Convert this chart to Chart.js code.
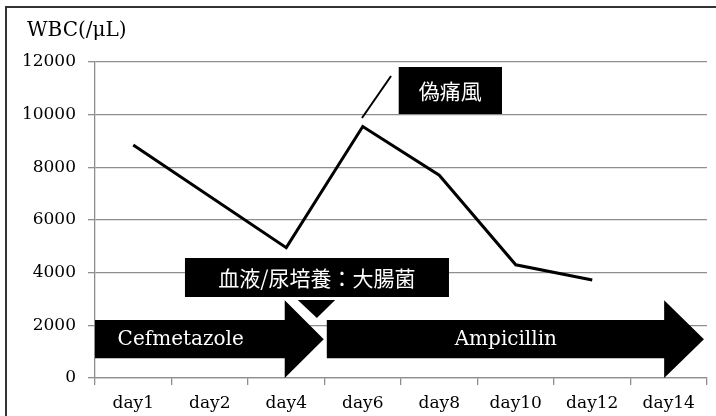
<!DOCTYPE html>
<html>
<head>
<meta charset="utf-8">
<script src="https://cdn.jsdelivr.net/npm/chart.js@4/dist/chart.umd.min.js"></script>
<style>
  html, body { margin: 0; padding: 0; background: #fff; }
  #wrap { width: 716px; height: 416px; position: relative; }
</style>
</head>
<body>
<div id="wrap"><canvas id="myChart"></canvas></div>
<script>
// categories and values
const days = ['day1', 'day2', 'day4', 'day6', 'day8', 'day10', 'day12', 'day14'];
const wbc = [8850, null, 4950, 9550, 7700, 4300, 3720, null];
const yTicks = [0, 2000, 4000, 6000, 8000, 10000, 12000];
const yTitle = 'WBC(/μL)';

const serif = '"DejaVu Serif", "Liberation Serif", serif';
const cjk = '"Noto Sans CJK JP", "Noto Sans", sans-serif';

// annotation shapes, placed in category index / value units
const arrows = [
  { text: 'Cefmetazole', from: -0.5, headAt: 1.98, tip: 2.49, textAt: 0.62 },
  { text: 'Ampicillin', from: 2.53, headAt: 6.94, tip: 7.46, textAt: 4.87 }
];
const boxes = [
  { text: '偽痛風', x1: 3.47, x2: 4.82, y1: 10025, y2: 11810 },
  { text: '血液/尿培養：大腸菌', x1: 0.676, x2: 4.127, y1: 3076, y2: 4557 }
];

const annotations = {
  id: 'annotations',
  beforeDraw(chart) {
    // outer frame (only top and left edges are visible)
    const ctx = chart.ctx;
    ctx.save();
    ctx.strokeStyle = '#333';
    ctx.lineWidth = 2;
    ctx.beginPath();
    ctx.moveTo(6, 416);
    ctx.lineTo(6, 7);
    ctx.lineTo(716, 7);
    ctx.stroke();

    // axis title above the y ticks
    ctx.fillStyle = '#000';
    ctx.font = '20px ' + serif;
    ctx.textAlign = 'left';
    ctx.textBaseline = 'middle';
    ctx.fillText(yTitle, 27, 31);
    ctx.restore();
  },
  afterDatasetsDraw(chart) {
    const ctx = chart.ctx;
    const xs = chart.scales.x, ys = chart.scales.y;
    const px = v => xs.getPixelForValue(v);
    const py = v => ys.getPixelForValue(v);
    ctx.save();
    ctx.fillStyle = '#000';

    // treatment arrows
    arrows.forEach(a => {
      ctx.beginPath();
      ctx.moveTo(px(a.from), py(2200));
      ctx.lineTo(px(a.headAt), py(2200));
      ctx.lineTo(px(a.headAt), py(2950));
      ctx.lineTo(px(a.tip), py(1475));
      ctx.lineTo(px(a.headAt), py(0));
      ctx.lineTo(px(a.headAt), py(750));
      ctx.lineTo(px(a.from), py(750));
      ctx.closePath();
      ctx.fill();
    });

    // small down arrow under the culture box
    ctx.beginPath();
    ctx.moveTo(px(2.15), py(2960));
    ctx.lineTo(px(2.64), py(2960));
    ctx.lineTo(px(2.40), py(2280));
    ctx.closePath();
    ctx.fill();

    // text boxes
    boxes.forEach(b => {
      ctx.fillStyle = '#000';
      ctx.fillRect(px(b.x1), py(b.y2), px(b.x2) - px(b.x1), py(b.y1) - py(b.y2));
      ctx.fillStyle = '#fff';
      ctx.font = '21px ' + cjk;
      ctx.textAlign = 'center';
      ctx.textBaseline = 'middle';
      ctx.fillText(b.text, (px(b.x1) + px(b.x2)) / 2, (py(b.y1) + py(b.y2)) / 2 + 1);
    });

    // arrow labels
    ctx.fillStyle = '#fff';
    ctx.font = '20px ' + serif;
    ctx.textAlign = 'center';
    ctx.textBaseline = 'middle';
    arrows.forEach(a => ctx.fillText(a.text, px(a.textAt), py(1475) + 1));

    // callout line to 偽痛風
    ctx.strokeStyle = '#000';
    ctx.lineWidth = 2;
    ctx.beginPath();
    ctx.moveTo(px(2.99), py(9873));
    ctx.lineTo(px(3.37), py(11468));
    ctx.stroke();
    ctx.restore();
  }
};

const ctx = document.getElementById('myChart').getContext('2d');
const myChart = new Chart(ctx, {
  type: 'line',
  data: {
    labels: days,
    datasets: [{
      data: wbc,
      borderColor: '#000',
      borderWidth: 3,
      pointRadius: 0,
      tension: 0,
      spanGaps: true
    }]
  },
  options: {
    responsive: true,
    maintainAspectRatio: false,
    animation: false,
    layout: { padding: { left: 20, right: 9, top: 62, bottom: 0 } },
    plugins: {
      legend: { display: false },
      tooltip: { enabled: false },
      title: { display: false }
    },
    scales: {
      x: {
        offset: true,
        grid: {
          offset: true,
          drawOnChartArea: false,
          tickLength: 7,
          color: '#8e8e8e',
          lineWidth: 1.3
        },
        border: { color: '#8e8e8e', width: 1.3 },
        ticks: {
          color: '#000',
          padding: 8,
          maxRotation: 0,
          font: { family: serif, size: 17 }
        },
        afterFit(scale) { scale.height = 38; }
      },
      y: {
        min: 0,
        max: 12000,
        afterBuildTicks(scale) { scale.ticks = yTicks.map(v => ({ value: v })); },
        grid: { tickLength: 7, color: '#8e8e8e', lineWidth: 1.3 },
        border: { color: '#8e8e8e', width: 1.3 },
        ticks: {
          color: '#000',
          padding: 12,
          font: { family: serif, size: 17 },
          callback: v => String(v)
        },
        afterFit(scale) { scale.width = 75; }
      }
    }
  },
  plugins: [annotations]
});
</script>
</body>
</html>
